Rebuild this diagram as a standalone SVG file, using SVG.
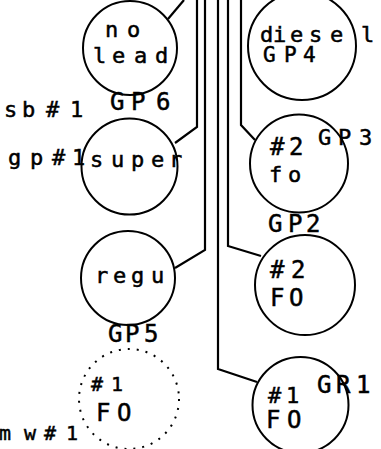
<svg xmlns="http://www.w3.org/2000/svg" width="381" height="449" viewBox="0 0 381 449">
<style>
.c{fill:none;stroke:#000;stroke-width:2}
.d{fill:none;stroke:#000;stroke-width:2;stroke-dasharray:2 7}
.w{fill:none;stroke:#000;stroke-width:2.2}
text{font-family:"DejaVu Sans Mono","Liberation Mono",monospace;fill:#000;stroke:#000;stroke-width:0.5}
.s20{font-size:20px}
.s21{font-size:21px}
.s22{font-size:22px}
.s24{font-size:24px}
</style>
<rect width="381" height="449" fill="#fff"/>
<g id="connectors">
<path class="w" d="M197,0 V127 L175,143"/>
<path class="w" d="M205,0 V250 L175,268"/>
<path class="w" d="M218,0 V369 L257,382"/>
<path class="w" d="M228,0 V246 L261,256"/>
<path class="w" d="M241,0 V125 L255,140"/>
<path class="w" d="M184,0 L168,19"/>
</g>
<g id="nolead">
<circle class="c" cx="130" cy="48" r="47"/>
<text class="s22" x="105 127" y="37">no</text>
<text class="s22" x="93 112 134 155" y="63">lead</text>
<text class="s24" x="110 131 156" y="110">GP6</text>
</g>
<g id="super">
<circle class="c" cx="129.5" cy="166.5" r="48"/>
<text class="s22" x="90 111 131 151 169" y="167">super</text>
</g>
<g id="regu">
<circle class="c" cx="128" cy="278" r="47"/>
<text class="s22" x="95 113 131 151" y="283">regu</text>
<text class="s24" x="108 125 144" y="342">GP5</text>
</g>
<g id="fo1dotted">
<circle class="d" cx="129" cy="399" r="50"/>
<text class="s20" x="91 111" y="391">#1</text>
<text class="s24" x="96 117" y="421">FO</text>
</g>
<g id="diesel">
<circle class="c" cx="302" cy="46" r="54"/>
<text class="s22" x="260 273 290 309 330 361" y="42">diesel</text>
<text class="s21" x="263 284 303" y="62">GP4</text>
</g>
<g id="fo2small">
<circle class="c" cx="299" cy="163.5" r="49"/>
<text class="s24" x="270 289" y="155">#2</text>
<text class="s22" x="269 288" y="182">fo</text>
<text class="s22" x="318 338 359" y="145">GP3</text>
</g>
<g id="fo2">
<circle class="c" cx="305" cy="285" r="50"/>
<text class="s24" x="268 288 306" y="232">GP2</text>
<text class="s24" x="270 291" y="278">#2</text>
<text class="s24" x="270 289" y="306">FO</text>
</g>
<g id="fo1">
<circle class="c" cx="300.5" cy="405" r="48"/>
<text class="s24" x="317 336 356" y="393">GR1</text>
<text class="s22" x="268 286" y="403">#1</text>
<text class="s24" x="266 287" y="428">FO</text>
</g>
<g id="labels">
<text class="s22" x="4 22 46 70" y="117">sb#1</text>
<text class="s22" x="8 30 52 72" y="165">gp#1</text>
<text class="s20" x="-1 24 44 66" y="440">mw#1</text>
</g>
</svg>
